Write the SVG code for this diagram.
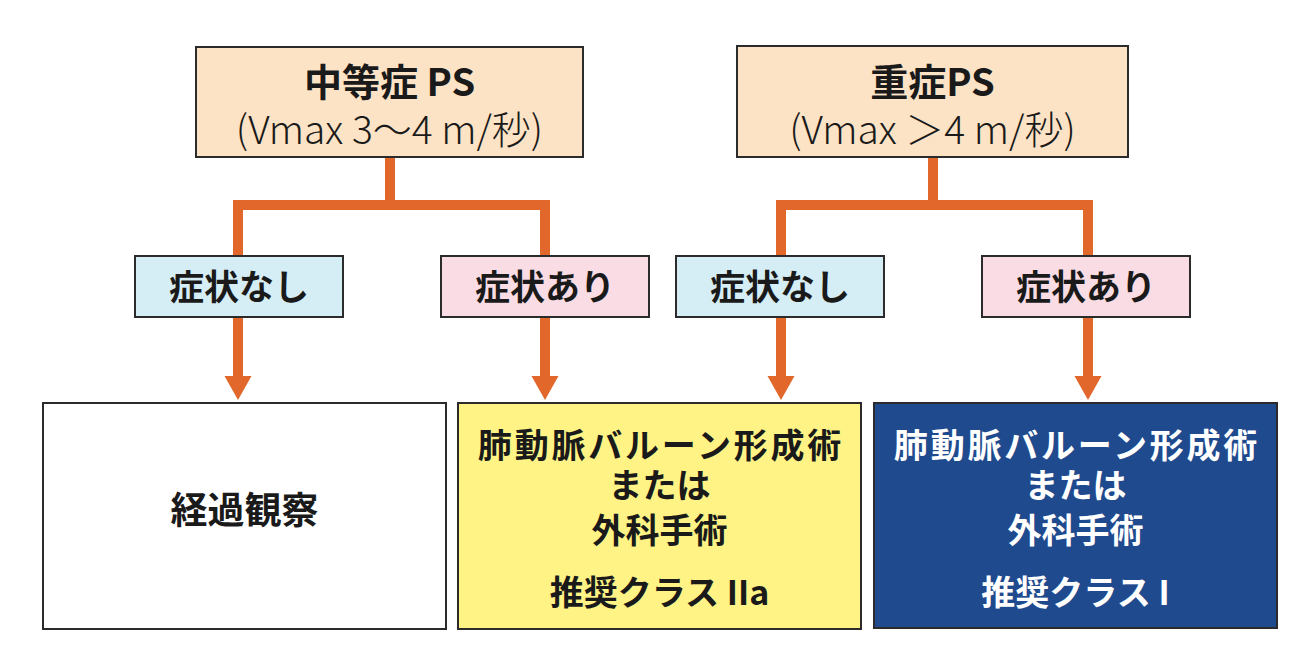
<svg xmlns="http://www.w3.org/2000/svg" width="1299" height="651" viewBox="0 0 1299 651">
<style>
text{font-family:"Noto Sans CJK JP","Noto Sans",sans-serif;text-anchor:middle;fill:#1a1a1a}
.b{font-weight:bold}
.sub{font-weight:300}
.box{stroke:#2b2b2b;stroke-width:2}
.conn{fill:none;stroke:#E2672A;stroke-width:10;stroke-linejoin:miter}
.head{fill:#E2672A}
.w{fill:#ffffff}
.wide{letter-spacing:2.8px}
</style>
<rect width="1299" height="651" fill="#ffffff"/>
<g id="connectors">
<path class="conn" d="M390,157 V205 M238,256 V205 H545 V256"/>
<path class="conn" d="M933,157 V205 M781,256 V205 H1088 V256"/>
<path class="conn" d="M238,317 V378 M545,317 V378 M781,317 V378 M1088,317 V378"/>
<polygon class="head" points="224.5,376 251.5,376 238,400"/>
<polygon class="head" points="531.5,376 558.5,376 545,400"/>
<polygon class="head" points="767.5,376 794.5,376 781,400"/>
<polygon class="head" points="1074.5,376 1101.5,376 1088,400"/>
</g>
<g id="moderate">
<rect class="box" x="196" y="47" width="387" height="110" fill="#FDE3C5"/>
<text class="b" x="389.5" y="96" font-size="38">中等症 PS</text>
<text class="sub" x="389.5" y="144" font-size="39">(Vmax 3〜4 m/秒)</text>
</g>
<g id="severe">
<rect class="box" x="737" y="46" width="391" height="111" fill="#FDE3C5"/>
<text class="b" x="932.5" y="96" font-size="38">重症PS</text>
<text class="sub" x="932.5" y="144" font-size="39">(Vmax ＞4 m/秒)</text>
</g>
<g id="mod-nosym">
<rect class="box" x="135" y="256" width="208" height="61" fill="#D5EEF6"/>
<text class="b" x="239" y="300" font-size="35">症状なし</text>
</g>
<g id="mod-sym">
<rect class="box" x="441" y="256" width="208" height="61" fill="#FADCE4"/>
<text class="b" x="545" y="300" font-size="35">症状あり</text>
</g>
<g id="sev-nosym">
<rect class="box" x="676" y="256" width="208" height="61" fill="#D5EEF6"/>
<text class="b" x="780" y="300" font-size="35">症状なし</text>
</g>
<g id="sev-sym">
<rect class="box" x="982" y="256" width="208" height="61" fill="#FADCE4"/>
<text class="b" x="1086" y="300" font-size="35">症状あり</text>
</g>
<g id="observe">
<rect class="box" x="43" y="403" width="403" height="226" fill="#ffffff"/>
<text class="b" x="244.5" y="524" font-size="37">経過観察</text>
</g>
<g id="class2a">
<rect class="box" x="458" y="403" width="403" height="226" fill="#FFF385"/>
<text class="b wide" x="661" y="458" font-size="34">肺動脈バルーン形成術</text>
<text class="b" x="659.5" y="498" font-size="34">または</text>
<text class="b" x="659.5" y="543" font-size="34">外科手術</text>
<text class="b" x="659.5" y="605" font-size="34">推奨クラス IIa</text>
</g>
<g id="class1">
<rect class="box" x="874" y="403" width="403" height="225" fill="#1F4A8E"/>
<text class="b w wide" x="1077" y="458" font-size="34">肺動脈バルーン形成術</text>
<text class="b w" x="1075.5" y="498" font-size="34">または</text>
<text class="b w" x="1075.5" y="543" font-size="34">外科手術</text>
<text class="b w" x="1075.5" y="605" font-size="34">推奨クラス I</text>
</g>
</svg>
